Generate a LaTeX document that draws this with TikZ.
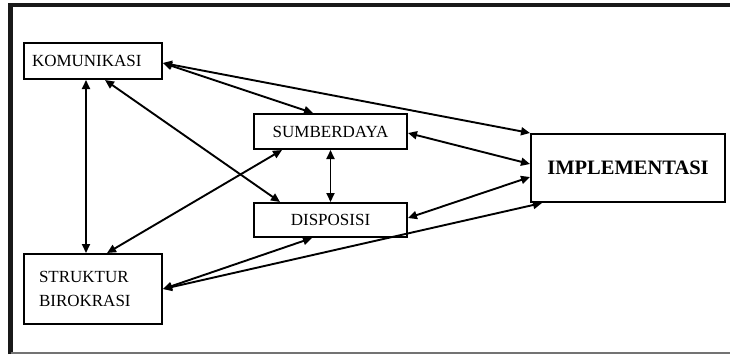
\documentclass[tikz,border=0pt]{standalone}
\usepackage{fontspec}
\setmainfont{Liberation Serif}
\usetikzlibrary{arrows.meta}
\begin{document}
\begin{tikzpicture}[x=1pt,y=-1pt,
  box/.style={draw=black,line width=2pt,rectangle,inner sep=0pt,font=\fontsize{17}{24}\selectfont},
  link/.style={line width=1.9pt,draw=black,{Triangle[length=9pt,width=8pt]}-{Triangle[length=9pt,width=8pt]}}]
\useasboundingbox (0,0) rectangle (730,354);
\fill[white] (0,0) rectangle (730,354);
% frame
\draw[line width=4.5pt,black!90] (10.5,354) -- (10.5,5) -- (730,5);
\draw[line width=2pt,black!55] (10.5,353) -- (730,353);
% nodes
\node[box,minimum width=138pt,minimum height=36pt,text width=122pt,align=left,inner xsep=8pt] (kom) at (93,61) {KOMUNIKASI};
\node[box,minimum width=153pt,minimum height=35pt] (sumb) at (330.5,131.5) {SUMBERDAYA};
\node[box,minimum width=153pt,minimum height=34pt] (disp) at (330.5,220) {DISPOSISI};
\node[box,minimum width=194pt,minimum height=68pt,font=\fontsize{20.5}{24}\selectfont\bfseries] (impl) at (628,168) {IMPLEMENTASI};
\node[box,minimum width=138pt,minimum height=70pt,text width=108pt,align=left,inner xsep=15pt] (struk) at (93,289) {STRUKTUR\\BIROKRASI};
% connectors
\draw[link] ([yshift=-2pt]kom.east) -- ([xshift=-17.5pt]sumb.north);
\draw[link] ([yshift=-2pt]kom.east) -- (impl.north west);
\draw[link] ([xshift=-7pt]kom.south) -- ([xshift=-7pt]struk.north);
\draw[link] ([xshift=12pt]kom.south) -- ([xshift=-50.5pt]disp.north);
\draw[link] ([xshift=-48.5pt]sumb.south) -- ([xshift=14pt]struk.north);
\draw[link] (sumb.south) -- (disp.north);
\draw[link] ([yshift=-1.5pt]sumb.east) -- ([yshift=4pt]impl.west);
\draw[link] ([yshift=2pt]disp.east) -- ([yshift=-9pt]impl.west);
\draw[link] (struk.east) -- ([xshift=12pt]impl.south west);
\draw[link] (struk.east) -- ([xshift=-18.5pt]disp.south);
\end{tikzpicture}
\end{document}
